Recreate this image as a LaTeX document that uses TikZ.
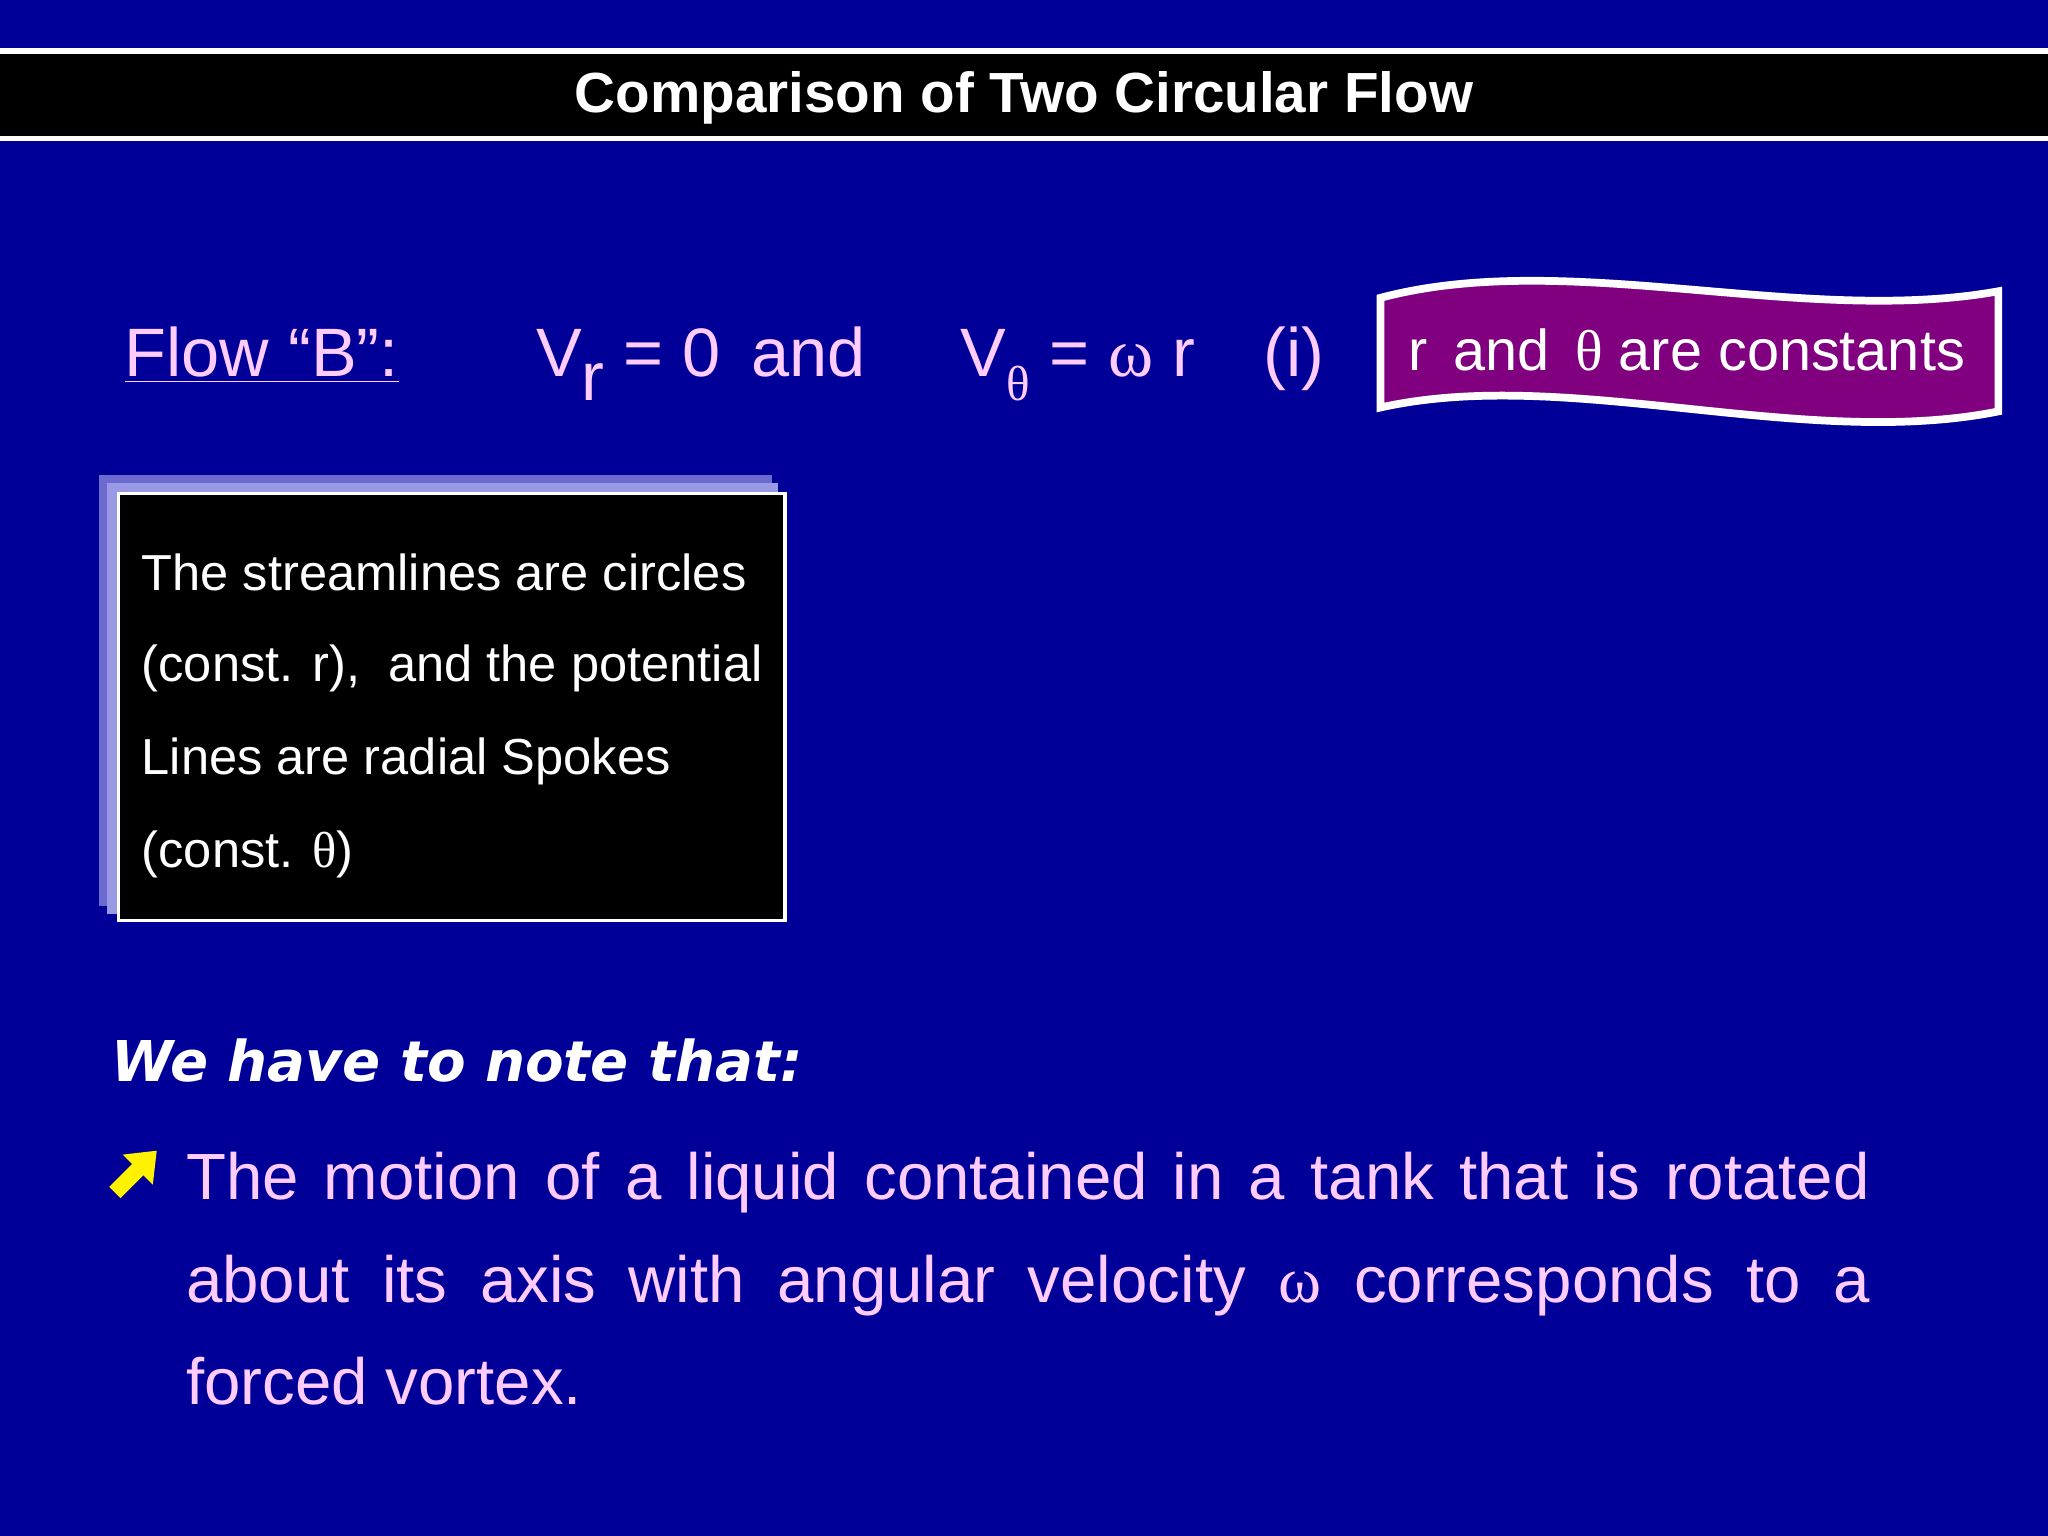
\documentclass[tikz,border=0pt]{standalone}
\usepackage{fontspec}
\setmainfont{Liberation Sans}
\newfontfamily\sym{Liberation Serif}
\newfontfamily\verd{DejaVu Sans}
\definecolor{bg}{RGB}{0,0,153}
\definecolor{pinkt}{RGB}{255,204,255}
\definecolor{purp}{RGB}{128,0,128}
\definecolor{lav}{RGB}{153,153,230}
\begin{document}
\begin{tikzpicture}[x=0.013061cm,y=-0.013061cm,
  txt/.style={inner sep=0,anchor=base west},
  ptxt/.style={txt,text=pinkt,font=\fontsize{19.5}{23}\selectfont}]
\useasboundingbox (0,0) rectangle (1568,1176);
\fill[bg] (0,0) rectangle (1568,1176);
\fill[white] (0,37) rectangle (1568,108);
\fill[black] (0,41) rectangle (1568,104);
\node[text=white,font=\bfseries\fontsize{16.1}{19}\selectfont,inner sep=0] (title) at (784,75) {Comparison of Two Circular Flow};
% flow line
\node[ptxt] (fb) at (95,288) {\underline{Flow “B”:}};
\node[ptxt] (vr) at (410,288) {V\raisebox{-0.35em}{r} = 0\, and};
\node[ptxt] (vt) at (735,288) {V\raisebox{-0.35em}{\sym\fontsize{14}{16}\selectfont θ} = {\sym ω} r\quad (i)};
% banner
\draw[white,line width=2.2pt,fill=purp] (1057,228) .. controls (1200,190) and (1380,250) .. (1530,223) -- (1530,315) .. controls (1380,345) and (1200,280) .. (1057,312) -- cycle;
\node[txt,text=white,font=\fontsize{16.4}{19}\selectfont] (ban) at (1078,284) {r\, and\, {\sym θ} are constants};
% shadow box
\fill[lav!70!bg] (76,364) rectangle (591,694);
\fill[lav] (82,370) rectangle (596,700);
\draw[white,line width=0.9pt,fill=black] (91,378) rectangle (601,705);
\foreach \t/\y [count=\i] in {{The streamlines are circles}/452,{(const. r),\ \ and the potential}/522,{Lines are radial Spokes}/593,{(const. {\sym θ})}/664}
  \node[txt,text=white,font=\fontsize{14.4}{17}\selectfont] (b\i) at (108,\y) {\t};
\node[txt,text=white,font=\verd\bfseries\itshape\fontsize{16}{19}\selectfont] (note) at (85,828) {We have to note that:};
% bullet arrow
\draw[yellow,line width=4.5pt] (88,913) -- (112,889);
\fill[yellow] (120,881) -- (94,884) -- (117,907) -- cycle;
\node[ptxt,font=\fontsize{18.6}{22}\selectfont] (l1) at (142,918) {\makebox[479pt][s]{The motion of a liquid contained in a tank that is rotated}};
\node[ptxt,font=\fontsize{18.6}{22}\selectfont] (l2) at (142,997) {\makebox[479pt][s]{about its axis with angular velocity {\sym ω} corresponds to a}};
\node[ptxt,font=\fontsize{18.6}{22}\selectfont] (l3) at (142,1075) {forced vortex.};
\end{tikzpicture}
\end{document}
